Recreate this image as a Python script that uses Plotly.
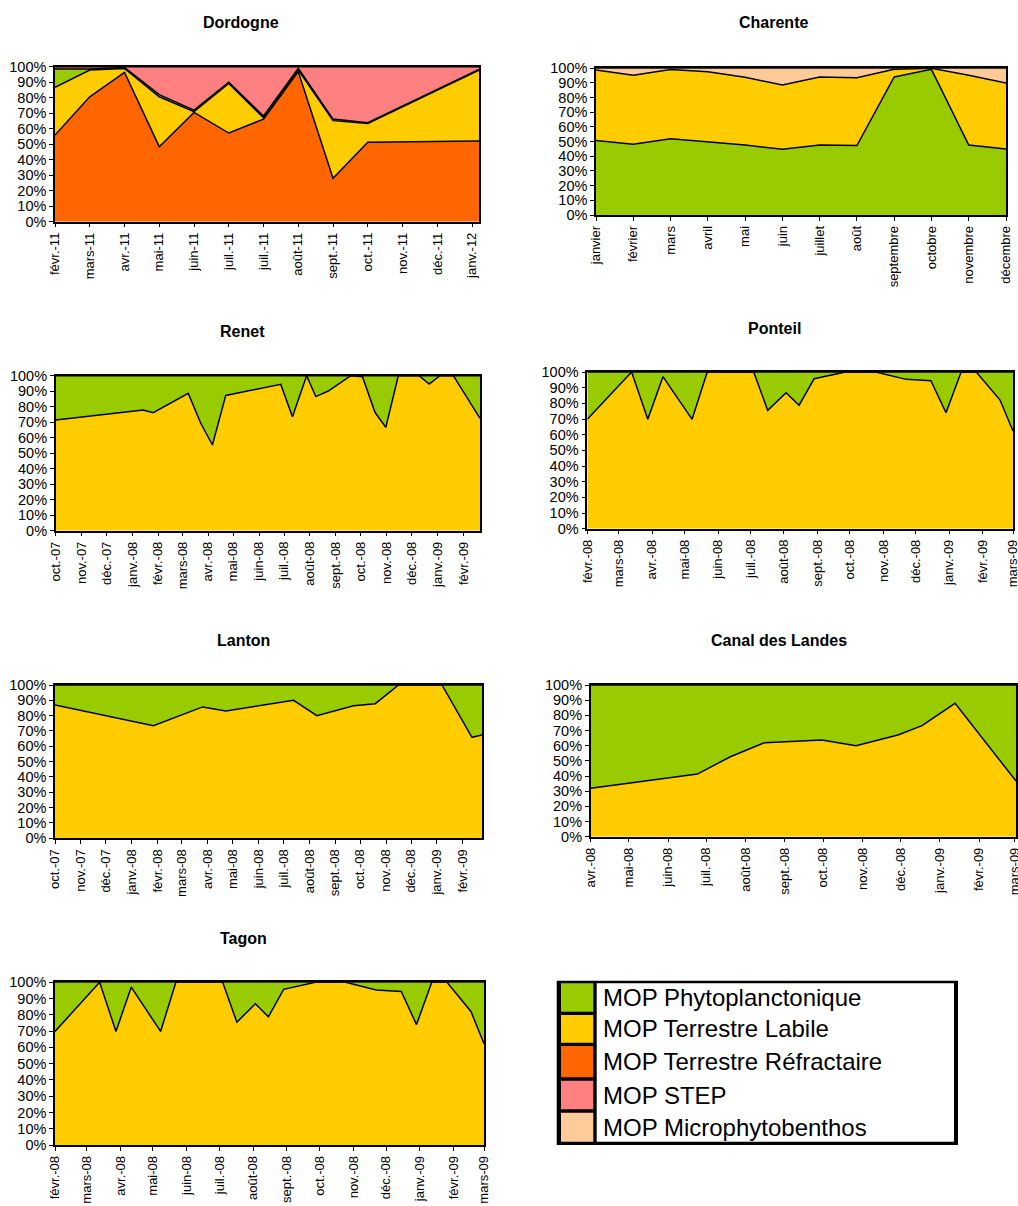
import plotly.graph_objects as go

W, H = 1018, 1206
GREEN = "#99CC00"
YELLOW = "#FFCC00"
ORANGE = "#FF6600"
PINK = "#FF8080"
PEACH = "#FFCC99"
FONT = "Liberation Sans, Arial, sans-serif"

# ---------------- DATA ----------------
# Dordogne (Excel date axis, ticks every 30 days)
dordogne_dates = ["2011-02-01", "2011-03-03", "2011-04-02", "2011-05-02", "2011-06-01", "2011-07-01",
                  "2011-07-31", "2011-08-30", "2011-09-29", "2011-10-29", "2012-02-02"]
dordogne_refractaire = [55.9, 80.6, 96.3, 48.4, 70.5, 57.2, 66.2, 96.8, 28.0, 51.2, 52.0]
dordogne_labile = [30.8, 17.2, 2.6, 32.2, 0.5, 32.0, 0.8, 1.0, 37.2, 12.2, 45.8]
dordogne_phyto = [11.8, 0.7, 0.6, 1.4, 1.0, 0.8, 1.2, 1.1, 1.0, 0.5, 0.5]
dordogne_step = [1.5, 1.5, 0.5, 18.0, 28.0, 10.0, 31.8, 1.1, 33.8, 36.1, 1.7]
dordogne_tickvals = ["2011-02-01", "2011-03-03", "2011-04-02", "2011-05-02", "2011-06-01", "2011-07-01",
                     "2011-07-31", "2011-08-30", "2011-09-29", "2011-10-29", "2011-11-28", "2011-12-28",
                     "2012-01-27"]
dordogne_ticktext = ["févr.-11", "mars-11", "avr.-11", "mai-11", "juin-11", "juil.-11", "juil.-11",
                     "août-11", "sept.-11", "oct.-11", "nov.-11", "déc.-11", "janv.-12"]

# Charente (category axis)
charente_months = ["janvier", "février", "mars", "avril", "mai", "juin", "juillet", "août",
                   "septembre", "octobre", "novembre", "décembre"]
charente_phyto = [50.7, 48.2, 52.0, 50.0, 47.7, 44.8, 47.7, 47.3, 94.1, 99.3, 47.7, 45.0]
charente_labile = [48.2, 47.0, 47.1, 47.7, 46.2, 43.8, 46.4, 46.3, 5.2, 0.7, 47.5, 45.0]
charente_micro = [1.1, 4.8, 0.9, 2.3, 6.1, 11.4, 5.9, 6.4, 0.7, 0.0, 4.8, 10.0]

# Renet
renet_dates = ["2007-10-01", "2008-01-14", "2008-01-26", "2008-03-08", "2008-03-23", "2008-04-06",
               "2008-04-22", "2008-06-27", "2008-07-11", "2008-07-28", "2008-08-08", "2008-08-23",
               "2008-09-19", "2008-10-03", "2008-10-18", "2008-10-31", "2008-11-15", "2008-12-10",
               "2008-12-22", "2009-01-04", "2009-01-20", "2009-02-10", "2009-02-21"]
renet_labile = [71.4, 77.9, 76.1, 88.6, 69.3, 55.3, 87.3, 94.4, 73.5, 100.0, 86.5, 90.1,
                100.0, 99.4, 76.4, 66.7, 100.0, 100.0, 94.6, 100.0, 100.0, 81.5, 72.5]
renet_phyto = [28.6, 22.1, 23.9, 11.4, 30.7, 44.7, 12.7, 5.6, 26.5, 0.0, 13.5, 9.9,
               0.0, 0.6, 23.6, 33.3, 0.0, 0.0, 5.4, 0.0, 0.0, 18.5, 27.5]

# Ponteil
ponteil_dates = ["2008-02-01", "2008-03-13", "2008-03-28", "2008-04-11", "2008-05-08", "2008-05-22",
                 "2008-07-04", "2008-07-17", "2008-08-03", "2008-08-15", "2008-08-29", "2008-09-27",
                 "2008-10-25", "2008-11-22", "2008-12-15", "2008-12-29", "2009-01-12", "2009-01-26",
                 "2009-02-17", "2009-03-01"]
ponteil_labile = [69.8, 100.0, 69.8, 97.0, 69.8, 100.0, 100.0, 75.5, 86.8, 78.8, 95.7, 100.0,
                  100.0, 95.3, 94.4, 74.0, 100.0, 100.0, 82.1, 62.3]
ponteil_phyto = [30.2, 0.0, 30.2, 3.0, 30.2, 0.0, 0.0, 24.5, 13.2, 21.2, 4.3, 0.0,
                 0.0, 4.7, 5.6, 26.0, 0.0, 0.0, 17.9, 37.7]

# Lanton
lanton_dates = ["2007-10-01", "2008-01-27", "2008-03-26", "2008-04-23", "2008-07-13", "2008-08-10",
                "2008-09-23", "2008-10-19", "2008-11-16", "2009-01-07", "2009-02-12", "2009-02-24"]
lanton_labile = [87.0, 73.5, 85.7, 83.0, 90.0, 80.0, 86.5, 87.8, 100.0, 100.0, 65.9, 67.4]
lanton_phyto = [13.0, 26.5, 14.3, 17.0, 10.0, 20.0, 13.5, 12.2, 0.0, 0.0, 34.1, 32.6]

# Canal des Landes
canal_dates = ["2008-04-01", "2008-06-24", "2008-07-20", "2008-08-16", "2008-09-30", "2008-10-27",
               "2008-11-29", "2008-12-18", "2009-01-13", "2009-03-02"]
canal_labile = [31.9, 41.3, 52.7, 62.0, 63.8, 60.0, 67.0, 73.2, 87.9, 36.7]
canal_phyto = [68.1, 58.7, 47.3, 38.0, 36.2, 40.0, 33.0, 26.8, 12.1, 63.3]

# Tagon
tagon_dates = ["2008-02-01", "2008-03-13", "2008-03-28", "2008-04-11", "2008-05-08", "2008-05-22",
               "2008-07-04", "2008-07-17", "2008-08-03", "2008-08-15", "2008-08-29", "2008-09-27",
               "2008-10-25", "2008-11-22", "2008-12-15", "2008-12-29", "2009-01-12", "2009-01-26",
               "2009-02-17", "2009-03-01"]
tagon_labile = [69.8, 100.0, 69.8, 97.0, 69.8, 100.0, 100.0, 75.5, 86.8, 78.8, 95.7, 100.0,
                100.0, 95.3, 94.4, 74.0, 100.0, 100.0, 82.1, 62.3]
tagon_phyto = [30.2, 0.0, 30.2, 3.0, 30.2, 0.0, 0.0, 24.5, 13.2, 21.2, 4.3, 0.0,
               0.0, 4.7, 5.6, 26.0, 0.0, 0.0, 17.9, 37.7]

# Monthly tick labels
ticks_oct07_feb09 = ["2007-10-01", "2007-11-01", "2007-12-01", "2008-01-01", "2008-02-01", "2008-03-01",
                     "2008-04-01", "2008-05-01", "2008-06-01", "2008-07-01", "2008-08-01", "2008-09-01",
                     "2008-10-01", "2008-11-01", "2008-12-01", "2009-01-01", "2009-02-01"]
labels_oct07_feb09 = ["oct.-07", "nov.-07", "déc.-07", "janv.-08", "févr.-08", "mars-08", "avr.-08",
                      "mai-08", "juin-08", "juil.-08", "août-08", "sept.-08", "oct.-08", "nov.-08",
                      "déc.-08", "janv.-09", "févr.-09"]
ticks_feb08_mar09 = ["2008-02-01", "2008-03-01", "2008-04-01", "2008-05-01", "2008-06-01", "2008-07-01",
                     "2008-08-01", "2008-09-01", "2008-10-01", "2008-11-01", "2008-12-01", "2009-01-01",
                     "2009-02-01", "2009-03-01"]
labels_feb08_mar09 = ["févr.-08", "mars-08", "avr.-08", "mai-08", "juin-08", "juil.-08", "août-08",
                      "sept.-08", "oct.-08", "nov.-08", "déc.-08", "janv.-09", "févr.-09", "mars-09"]
ticks_apr08_mar09 = ["2008-04-01", "2008-05-01", "2008-06-01", "2008-07-01", "2008-08-01", "2008-09-01",
                     "2008-10-01", "2008-11-01", "2008-12-01", "2009-01-01", "2009-02-01", "2009-03-01"]
labels_apr08_mar09 = ["avr.-08", "mai-08", "juin-08", "juil.-08", "août-08", "sept.-08", "oct.-08",
                      "nov.-08", "déc.-08", "janv.-09", "févr.-09", "mars-09"]

legend_names = ["MOP Phytoplanctonique", "MOP Terrestre Labile", "MOP Terrestre Réfractaire",
                "MOP STEP", "MOP Microphytobenthos"]
legend_colors = [GREEN, YELLOW, ORANGE, PINK, PEACH]

# ---------------- FIGURE ----------------
fig = go.Figure()


def px_x(v):
    return v / W


def px_y(v):
    return 1 - v / H


def add_panel(idx, box, x, series, title, title_xy, tickvals, ticktext, xrange, xtype="date"):
    suffix = "" if idx == 1 else str(idx)
    xa, ya = "x" + suffix, "y" + suffix
    for name, vals, color in series:
        fig.add_trace(go.Scatter(
            x=x, y=vals, name=name, stackgroup="g" + suffix, mode="lines",
            line=dict(color="black", width=1.5), fillcolor=color,
            xaxis=xa, yaxis=ya, showlegend=False, hoverinfo="skip"))
    x0, y0, x1, y1 = box
    fig.update_layout(**{
        "xaxis" + suffix: dict(
            domain=[px_x(x0), px_x(x1)], anchor=ya, type=xtype, range=xrange, automargin=False,
            tickmode="array", tickvals=tickvals, ticktext=ticktext, tickangle=-90,
            ticklabeloverflow="allow",
            showgrid=False, zeroline=False, ticks="outside", ticklen=4, tickcolor="black",
            showline=True, mirror=True, linecolor="black", linewidth=1.5,
            tickfont=dict(family=FONT, size=13, color="black")),
        "yaxis" + suffix: dict(
            domain=[px_y(y1), px_y(y0)], anchor=xa, range=[0, 100], dtick=10, ticksuffix="%",
            automargin=False,
            showgrid=False, zeroline=False, ticks="outside", ticklen=4, tickcolor="black",
            showline=True, mirror=True, linecolor="black", linewidth=1.5,
            tickfont=dict(family=FONT, size=14.5, color="black")),
    })
    fig.add_annotation(x=px_x(title_xy[0]), y=px_y(title_xy[1]), xref="paper", yref="paper",
                       text="<b>%s</b>" % title, showarrow=False, xanchor="center", yanchor="middle",
                       font=dict(family=FONT, size=16, color="black"))


add_panel(1, (55, 66.7, 479, 221.7), dordogne_dates,
          [("MOP Terrestre Réfractaire", dordogne_refractaire, ORANGE),
           ("MOP Terrestre Labile", dordogne_labile, YELLOW),
           ("MOP Phytoplanctonique", dordogne_phyto, GREEN),
           ("MOP STEP", dordogne_step, PINK)],
          "Dordogne", (241, 22), dordogne_tickvals, dordogne_ticktext,
          ["2011-02-01", "2012-02-02"])

add_panel(2, (596, 68.3, 1006, 215), charente_months,
          [("MOP Phytoplanctonique", charente_phyto, GREEN),
           ("MOP Terrestre Labile", charente_labile, YELLOW),
           ("MOP Microphytobenthos", charente_micro, PEACH)],
          "Charente", (773, 22), charente_months, charente_months, [0, 11], xtype="category")

add_panel(3, (55.7, 375.7, 480, 530.7), renet_dates,
          [("MOP Terrestre Labile", renet_labile, YELLOW),
           ("MOP Phytoplanctonique", renet_phyto, GREEN)],
          "Renet", (242, 331), ticks_oct07_feb09, labels_oct07_feb09,
          ["2007-10-01", "2009-02-21"])

add_panel(4, (587.3, 372, 1013, 528.7), ponteil_dates,
          [("MOP Terrestre Labile", ponteil_labile, YELLOW),
           ("MOP Phytoplanctonique", ponteil_phyto, GREEN)],
          "Ponteil", (774, 328), ticks_feb08_mar09, labels_feb08_mar09,
          ["2008-02-01", "2009-03-01"])

add_panel(5, (55, 685, 482, 838.3), lanton_dates,
          [("MOP Terrestre Labile", lanton_labile, YELLOW),
           ("MOP Phytoplanctonique", lanton_phyto, GREEN)],
          "Lanton", (243, 640), ticks_oct07_feb09, labels_oct07_feb09,
          ["2007-10-01", "2009-02-24"])

add_panel(6, (590.7, 685, 1016, 836.7), canal_dates,
          [("MOP Terrestre Labile", canal_labile, YELLOW),
           ("MOP Phytoplanctonique", canal_phyto, GREEN)],
          "Canal des Landes", (779, 640), ticks_apr08_mar09, labels_apr08_mar09,
          ["2008-04-01", "2009-03-02"])

add_panel(7, (55, 982.3, 484, 1145), tagon_dates,
          [("MOP Terrestre Labile", tagon_labile, YELLOW),
           ("MOP Phytoplanctonique", tagon_phyto, GREEN)],
          "Tagon", (243, 938), ticks_feb08_mar09, labels_feb08_mar09,
          ["2008-02-01", "2009-03-01"])

# ---------------- LEGEND (drawn box) ----------------
shapes = []
shapes.append(dict(type="rect", xref="paper", yref="paper", x0=px_x(556.7), x1=px_x(958),
                   y0=px_y(1145), y1=px_y(980.7), fillcolor="black", line=dict(width=0), layer="above"))
shapes.append(dict(type="rect", xref="paper", yref="paper", x0=px_x(596.7), x1=px_x(954),
                   y0=px_y(1141.7), y1=px_y(983.3), fillcolor="white", line=dict(width=0), layer="above"))
rows = [(983.3, 1011.7), (1015, 1042.7), (1046, 1077.3), (1080.7, 1109.3), (1112.7, 1141.7)]
for (ry0, ry1), name, color in zip(rows, legend_names, legend_colors):
    shapes.append(dict(type="rect", xref="paper", yref="paper", x0=px_x(561), x1=px_x(593.3),
                       y0=px_y(ry1), y1=px_y(ry0), fillcolor=color, line=dict(width=0), layer="above"))
    fig.add_annotation(x=px_x(600.7), y=px_y((ry0 + ry1) / 2), xref="paper", yref="paper",
                       text=name, showarrow=False, xanchor="left", yanchor="middle",
                       font=dict(family=FONT, size=24, color="black"))

fig.update_layout(
    width=W, height=H, margin=dict(l=0, r=0, t=0, b=0, pad=0), autosize=False,
    paper_bgcolor="white", plot_bgcolor="white", showlegend=False,
    shapes=shapes, font=dict(family=FONT, color="black"),
)

fig.write_html("out.html", config={"displayModeBar": False},
               post_script="document.body.style.margin='0';document.body.style.overflow='hidden';")
